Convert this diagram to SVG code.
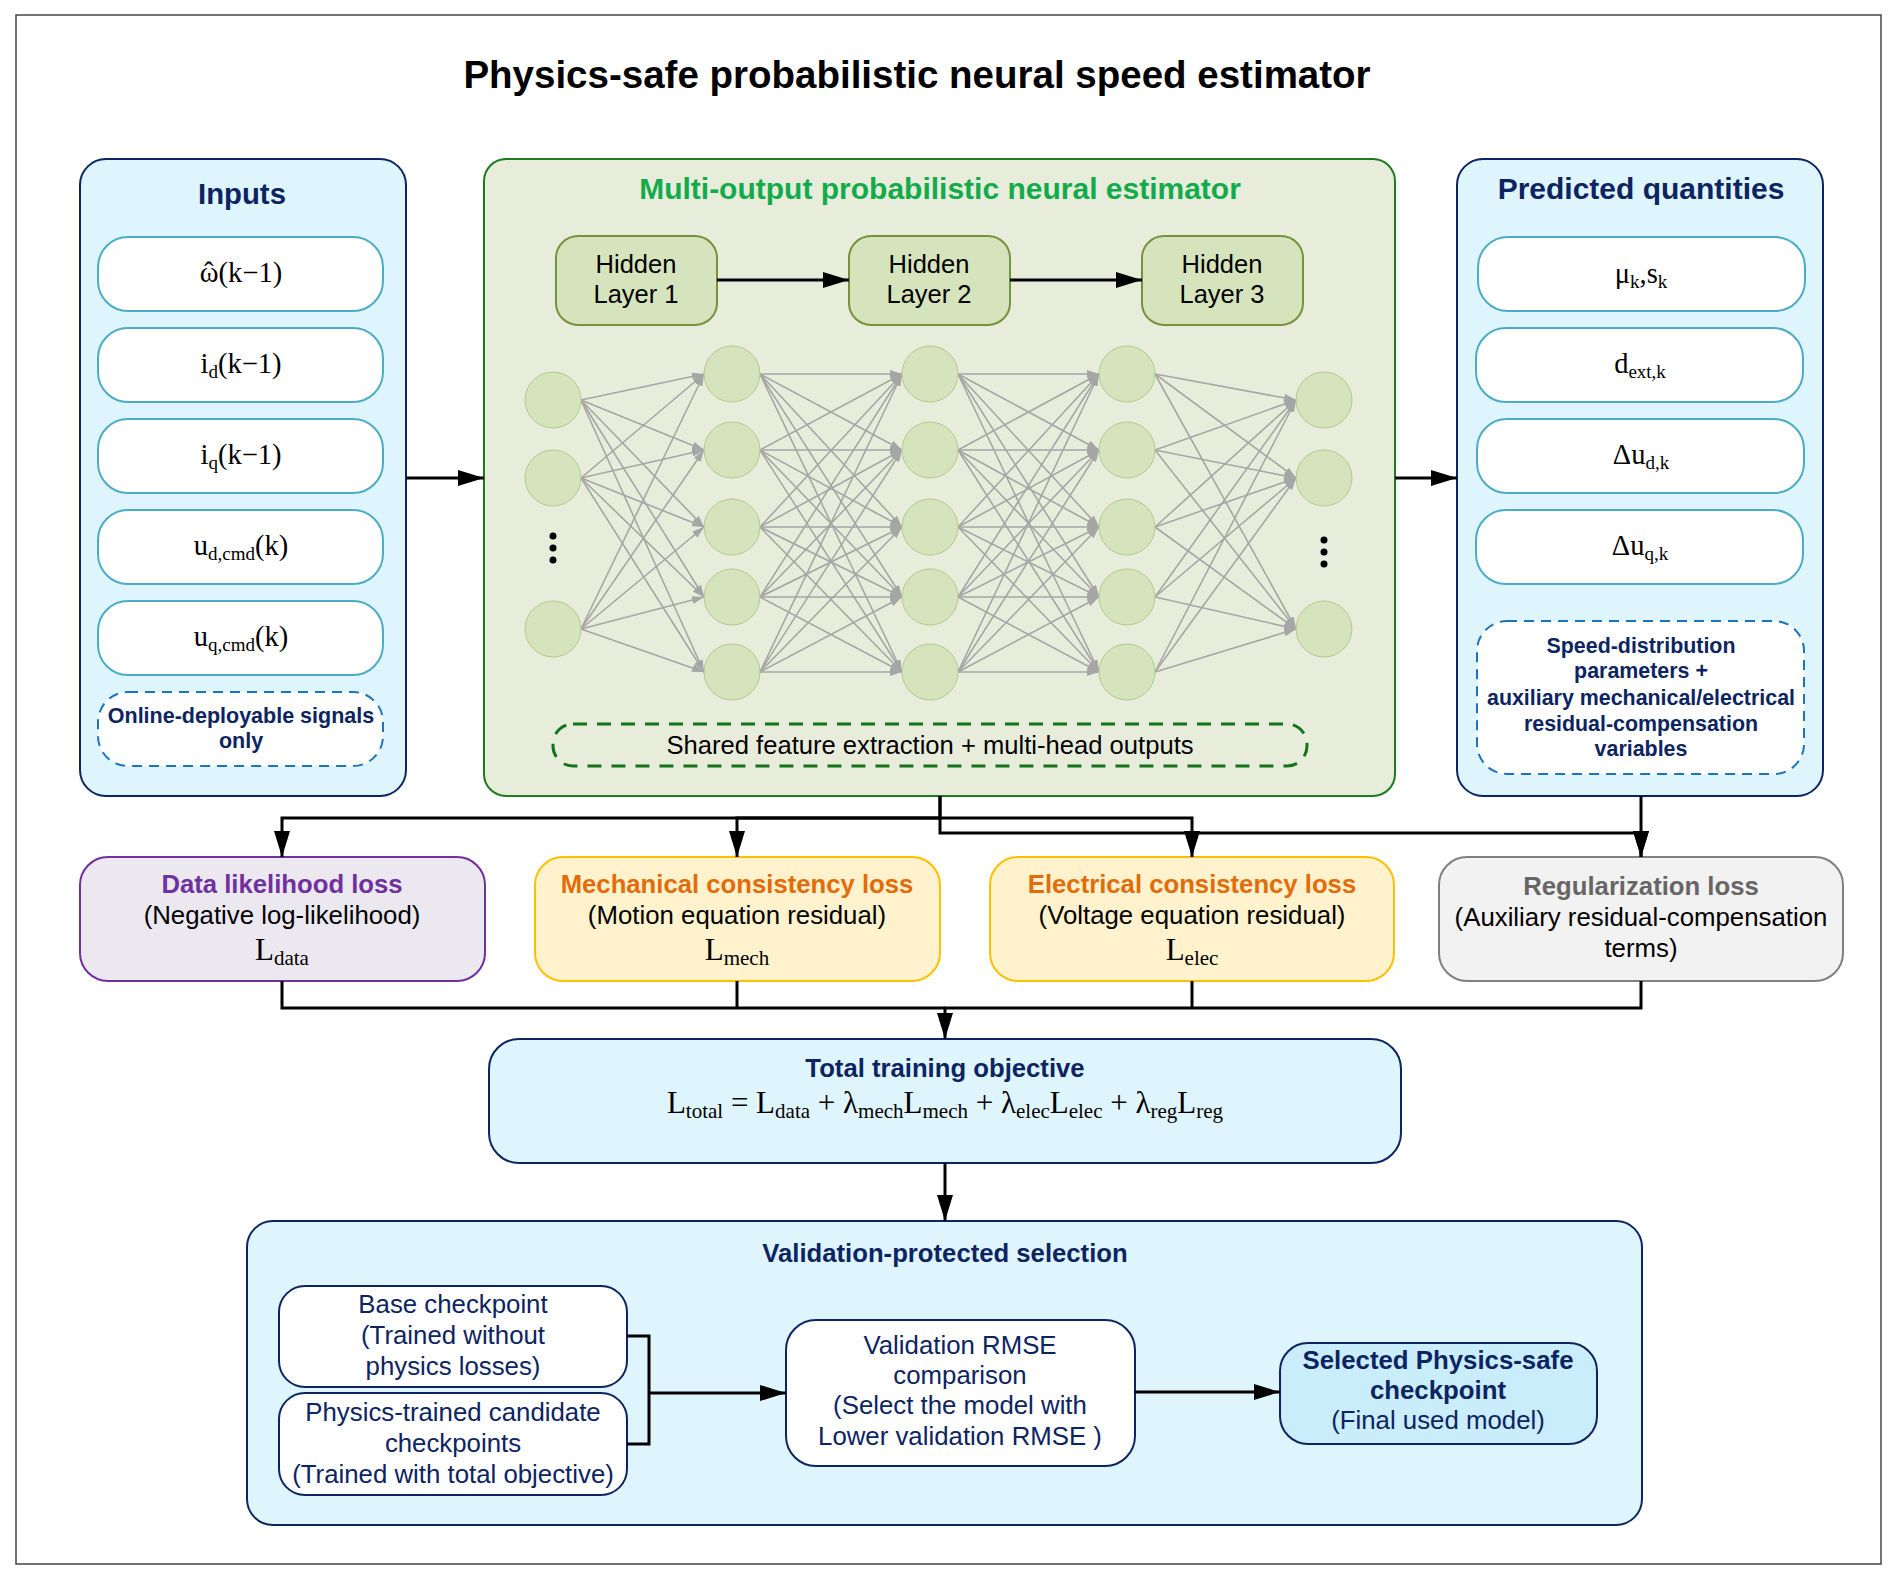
<svg xmlns="http://www.w3.org/2000/svg" width="1897" height="1579" viewBox="0 0 1897 1579">
<defs>
<style>
.t{font-family:"Liberation Sans",Arial,sans-serif;}
.b{font-weight:bold;}
.nv{fill:#0c2461;}
.r{font-size:25.8px;}
.bt{font-size:25.7px;}
.m{font-family:"Liberation Serif","Times New Roman",serif;font-size:28.5px;fill:#000;}
.s{font-size:19px;}
.ms{font-family:"Liberation Serif","Times New Roman",serif;font-size:31px;fill:#000;}
.ss{font-size:21px;}
.inner{fill:#ffffff;stroke:#4bacc6;stroke-width:2;}
.panel{fill:#dff5fe;stroke:#0c2461;stroke-width:2;}
.note{fill:#ffffff;stroke:#1e73be;stroke-width:2;stroke-dasharray:10 7;}
.neu{fill:#d6e4bd;stroke:#b3c98c;stroke-width:1;}
.hid{fill:#d6e4bd;stroke:#76933c;stroke-width:2;}
.nn line{stroke:#a6a6a6;stroke-width:1.6;marker-end:url(#ga);}
.con{fill:none;stroke:#000;stroke-width:3;}
.vb{fill:#ffffff;stroke:#0c2461;stroke-width:2;}
</style>
<marker id="ah" viewBox="0 0 26 16" refX="26" refY="8" markerWidth="26" markerHeight="16" markerUnits="userSpaceOnUse" orient="auto"><path d="M0,0 L26,8 L0,16 z" fill="#000"/></marker>
<marker id="ga" viewBox="0 0 12 8" refX="12" refY="4" markerWidth="12" markerHeight="8" markerUnits="userSpaceOnUse" orient="auto"><path d="M0,0 L12,4 L0,8 z" fill="#a6a6a6"/></marker>
</defs>
<rect x="0" y="0" width="1897" height="1579" fill="#ffffff"/>
<rect x="16" y="15" width="1865" height="1549" fill="none" stroke="#444" stroke-width="1.5"/>
<text class="t b" x="917" y="88" font-size="38.5" text-anchor="middle" fill="#000">Physics-safe probabilistic neural speed estimator</text>

<g id="inputs">
<rect class="panel" x="80" y="159" width="326" height="637" rx="26"/>
<text class="t b nv" x="242" y="204" font-size="29.3" text-anchor="middle">Inputs</text>
<rect class="inner" x="98" y="237" width="285" height="74" rx="30"/>
<text class="m" x="241" y="282" text-anchor="middle">ω<tspan dx="-14.5">ˆ</tspan><tspan dx="5">(k−1)</tspan></text>
<rect class="inner" x="98" y="328" width="285" height="74" rx="30"/>
<text class="m" x="241" y="373" text-anchor="middle">i<tspan class="s" dy="5">d</tspan><tspan dy="-5">(k−1)</tspan></text>
<rect class="inner" x="98" y="419" width="285" height="74" rx="30"/>
<text class="m" x="241" y="464" text-anchor="middle">i<tspan class="s" dy="5">q</tspan><tspan dy="-5">(k−1)</tspan></text>
<rect class="inner" x="98" y="510" width="285" height="74" rx="30"/>
<text class="m" x="241" y="555" text-anchor="middle">u<tspan class="s" dy="5">d,cmd</tspan><tspan dy="-5">(k)</tspan></text>
<rect class="inner" x="98" y="601" width="285" height="74" rx="30"/>
<text class="m" x="241" y="646" text-anchor="middle">u<tspan class="s" dy="5">q,cmd</tspan><tspan dy="-5">(k)</tspan></text>
<rect class="note" x="98" y="692" width="285" height="74" rx="30"/>
<text class="t b nv" x="241" y="723" font-size="21.5" text-anchor="middle">Online-deployable signals</text>
<text class="t b nv" x="241" y="748" font-size="21.5" text-anchor="middle">only</text>
</g>

<g id="neural-estimator">
<rect x="484" y="159" width="911" height="637" rx="22" fill="#e8eddb" stroke="#1e7b1e" stroke-width="2"/>
<text class="t b" x="940" y="199" font-size="30" text-anchor="middle" fill="#12ab4b">Multi-output probabilistic neural estimator</text>
<g id="hidden1"><rect class="hid" x="556" y="236" width="161" height="89" rx="22"/>
<text class="t" x="636" y="273" font-size="25.5" text-anchor="middle">Hidden</text><text class="t" x="636" y="303" font-size="25.5" text-anchor="middle">Layer 1</text></g>
<g id="hidden2"><rect class="hid" x="849" y="236" width="161" height="89" rx="22"/>
<text class="t" x="929" y="273" font-size="25.5" text-anchor="middle">Hidden</text><text class="t" x="929" y="303" font-size="25.5" text-anchor="middle">Layer 2</text></g>
<g id="hidden3"><rect class="hid" x="1142" y="236" width="161" height="89" rx="22"/>
<text class="t" x="1222" y="273" font-size="25.5" text-anchor="middle">Hidden</text><text class="t" x="1222" y="303" font-size="25.5" text-anchor="middle">Layer 3</text></g>
<g class="nn">
<line x1="581" y1="400" x2="704" y2="374"/><line x1="581" y1="400" x2="704" y2="450"/><line x1="581" y1="400" x2="704" y2="527"/><line x1="581" y1="400" x2="704" y2="597"/><line x1="581" y1="400" x2="704" y2="672"/>
<line x1="581" y1="478" x2="704" y2="374"/><line x1="581" y1="478" x2="704" y2="450"/><line x1="581" y1="478" x2="704" y2="527"/><line x1="581" y1="478" x2="704" y2="597"/><line x1="581" y1="478" x2="704" y2="672"/>
<line x1="581" y1="629" x2="704" y2="374"/><line x1="581" y1="629" x2="704" y2="450"/><line x1="581" y1="629" x2="704" y2="527"/><line x1="581" y1="629" x2="704" y2="597"/><line x1="581" y1="629" x2="704" y2="672"/>

<line x1="760" y1="374" x2="902" y2="374"/><line x1="760" y1="374" x2="902" y2="450"/><line x1="760" y1="374" x2="902" y2="527"/><line x1="760" y1="374" x2="902" y2="597"/><line x1="760" y1="374" x2="902" y2="672"/>
<line x1="760" y1="450" x2="902" y2="374"/><line x1="760" y1="450" x2="902" y2="450"/><line x1="760" y1="450" x2="902" y2="527"/><line x1="760" y1="450" x2="902" y2="597"/><line x1="760" y1="450" x2="902" y2="672"/>
<line x1="760" y1="527" x2="902" y2="374"/><line x1="760" y1="527" x2="902" y2="450"/><line x1="760" y1="527" x2="902" y2="527"/><line x1="760" y1="527" x2="902" y2="597"/><line x1="760" y1="527" x2="902" y2="672"/>
<line x1="760" y1="597" x2="902" y2="374"/><line x1="760" y1="597" x2="902" y2="450"/><line x1="760" y1="597" x2="902" y2="527"/><line x1="760" y1="597" x2="902" y2="597"/><line x1="760" y1="597" x2="902" y2="672"/>
<line x1="760" y1="672" x2="902" y2="374"/><line x1="760" y1="672" x2="902" y2="450"/><line x1="760" y1="672" x2="902" y2="527"/><line x1="760" y1="672" x2="902" y2="597"/><line x1="760" y1="672" x2="902" y2="672"/>

<line x1="958" y1="374" x2="1099" y2="374"/><line x1="958" y1="374" x2="1099" y2="450"/><line x1="958" y1="374" x2="1099" y2="527"/><line x1="958" y1="374" x2="1099" y2="597"/><line x1="958" y1="374" x2="1099" y2="672"/>
<line x1="958" y1="450" x2="1099" y2="374"/><line x1="958" y1="450" x2="1099" y2="450"/><line x1="958" y1="450" x2="1099" y2="527"/><line x1="958" y1="450" x2="1099" y2="597"/><line x1="958" y1="450" x2="1099" y2="672"/>
<line x1="958" y1="527" x2="1099" y2="374"/><line x1="958" y1="527" x2="1099" y2="450"/><line x1="958" y1="527" x2="1099" y2="527"/><line x1="958" y1="527" x2="1099" y2="597"/><line x1="958" y1="527" x2="1099" y2="672"/>
<line x1="958" y1="597" x2="1099" y2="374"/><line x1="958" y1="597" x2="1099" y2="450"/><line x1="958" y1="597" x2="1099" y2="527"/><line x1="958" y1="597" x2="1099" y2="597"/><line x1="958" y1="597" x2="1099" y2="672"/>
<line x1="958" y1="672" x2="1099" y2="374"/><line x1="958" y1="672" x2="1099" y2="450"/><line x1="958" y1="672" x2="1099" y2="527"/><line x1="958" y1="672" x2="1099" y2="597"/><line x1="958" y1="672" x2="1099" y2="672"/>

<line x1="1155" y1="374" x2="1296" y2="400"/><line x1="1155" y1="374" x2="1296" y2="478"/><line x1="1155" y1="374" x2="1296" y2="629"/>
<line x1="1155" y1="450" x2="1296" y2="400"/><line x1="1155" y1="450" x2="1296" y2="478"/><line x1="1155" y1="450" x2="1296" y2="629"/>
<line x1="1155" y1="527" x2="1296" y2="400"/><line x1="1155" y1="527" x2="1296" y2="478"/><line x1="1155" y1="527" x2="1296" y2="629"/>
<line x1="1155" y1="597" x2="1296" y2="400"/><line x1="1155" y1="597" x2="1296" y2="478"/><line x1="1155" y1="597" x2="1296" y2="629"/>
<line x1="1155" y1="672" x2="1296" y2="400"/><line x1="1155" y1="672" x2="1296" y2="478"/><line x1="1155" y1="672" x2="1296" y2="629"/>
</g>
<g id="neurons">
<circle class="neu" cx="553" cy="400" r="28"/><circle class="neu" cx="553" cy="478" r="28"/><circle class="neu" cx="553" cy="629" r="28"/>
<circle cx="553" cy="536" r="3.5" fill="#000"/><circle cx="553" cy="548" r="3.5" fill="#000"/><circle cx="553" cy="560" r="3.5" fill="#000"/>
<circle class="neu" cx="732" cy="374" r="28"/><circle class="neu" cx="732" cy="450" r="28"/><circle class="neu" cx="732" cy="527" r="28"/><circle class="neu" cx="732" cy="597" r="28"/><circle class="neu" cx="732" cy="672" r="28"/>
<circle class="neu" cx="930" cy="374" r="28"/><circle class="neu" cx="930" cy="450" r="28"/><circle class="neu" cx="930" cy="527" r="28"/><circle class="neu" cx="930" cy="597" r="28"/><circle class="neu" cx="930" cy="672" r="28"/>
<circle class="neu" cx="1127" cy="374" r="28"/><circle class="neu" cx="1127" cy="450" r="28"/><circle class="neu" cx="1127" cy="527" r="28"/><circle class="neu" cx="1127" cy="597" r="28"/><circle class="neu" cx="1127" cy="672" r="28"/>
<circle class="neu" cx="1324" cy="400" r="28"/><circle class="neu" cx="1324" cy="478" r="28"/><circle class="neu" cx="1324" cy="629" r="28"/>
<circle cx="1324" cy="540" r="3.5" fill="#000"/><circle cx="1324" cy="552" r="3.5" fill="#000"/><circle cx="1324" cy="564" r="3.5" fill="#000"/>
</g>
<rect x="553" y="724" width="754" height="42" rx="20" fill="none" stroke="#12731a" stroke-width="3" stroke-dasharray="14 10"/>
<text class="t" x="930" y="754" font-size="25.6" text-anchor="middle" fill="#000">Shared feature extraction + multi-head outputs</text>
</g>

<g id="predicted">
<rect class="panel" x="1457" y="159" width="366" height="637" rx="26"/>
<text class="t b nv" x="1641" y="199" font-size="30" text-anchor="middle">Predicted quantities</text>
<rect class="inner" x="1478" y="237" width="327" height="74" rx="30"/>
<text class="m" x="1641" y="283" text-anchor="middle">μ<tspan class="s" dy="5">k</tspan><tspan dy="-5">,s</tspan><tspan class="s" dy="5">k</tspan></text>
<rect class="inner" x="1476" y="328" width="327" height="74" rx="30"/>
<text class="m" x="1640" y="373" text-anchor="middle">d<tspan class="s" dy="5">ext,k</tspan></text>
<rect class="inner" x="1477" y="419" width="327" height="74" rx="30"/>
<text class="m" x="1641" y="464" text-anchor="middle">Δu<tspan class="s" dy="5">d,k</tspan></text>
<rect class="inner" x="1476" y="510" width="327" height="74" rx="30"/>
<text class="m" x="1640" y="555" text-anchor="middle">Δu<tspan class="s" dy="5">q,k</tspan></text>
<rect class="note" x="1477" y="621" width="327" height="153" rx="30"/>
<text class="t b nv" font-size="21.4" text-anchor="middle"><tspan x="1641" y="653">Speed-distribution</tspan><tspan x="1641" y="678">parameters +</tspan><tspan x="1641" y="705">auxiliary mechanical/electrical</tspan><tspan x="1641" y="731">residual-compensation</tspan><tspan x="1641" y="756">variables</tspan></text>
</g>

<g id="loss-data">
<rect x="80" y="857" width="405" height="124" rx="28" fill="#ebe8f0" stroke="#7030a0" stroke-width="2"/>
<text class="t b bt" x="282" y="893" text-anchor="middle" fill="#7030a0">Data likelihood loss</text>
<text class="t r" x="282" y="924" text-anchor="middle" fill="#000">(Negative log-likelihood)</text>
<text class="ms" x="282" y="960" text-anchor="middle">L<tspan class="ss" dy="5">data</tspan></text>
</g>
<g id="loss-mech">
<rect x="535" y="857" width="405" height="124" rx="28" fill="#fff2cc" stroke="#ffc000" stroke-width="2"/>
<text class="t b bt" x="737" y="893" text-anchor="middle" fill="#e36c09">Mechanical consistency loss</text>
<text class="t r" x="737" y="924" text-anchor="middle" fill="#000">(Motion equation residual)</text>
<text class="ms" x="737" y="960" text-anchor="middle">L<tspan class="ss" dy="5">mech</tspan></text>
</g>
<g id="loss-elec">
<rect x="990" y="857" width="404" height="124" rx="28" fill="#fff2cc" stroke="#ffc000" stroke-width="2"/>
<text class="t b bt" x="1192" y="893" text-anchor="middle" fill="#e36c09">Electrical consistency loss</text>
<text class="t r" x="1192" y="924" text-anchor="middle" fill="#000">(Voltage equation residual)</text>
<text class="ms" x="1192" y="960" text-anchor="middle">L<tspan class="ss" dy="5">elec</tspan></text>
</g>
<g id="loss-reg">
<rect x="1439" y="857" width="404" height="124" rx="28" fill="#f2f2f2" stroke="#808080" stroke-width="2"/>
<text class="t b bt" x="1641" y="895" text-anchor="middle" fill="#666666">Regularization loss</text>
<text class="t r" x="1641" y="926" text-anchor="middle" fill="#000">(Auxiliary residual-compensation</text>
<text class="t r" x="1641" y="957" text-anchor="middle" fill="#000">terms)</text>
</g>

<g id="total-objective">
<rect class="panel" x="489" y="1039" width="912" height="124" rx="30"/>
<text class="t b nv bt" x="945" y="1077" text-anchor="middle">Total training objective</text>
<text class="ms" x="945" y="1113" text-anchor="middle">L<tspan class="ss" dy="5">total</tspan><tspan dy="-5"> = L</tspan><tspan class="ss" dy="5">data</tspan><tspan dy="-5"> + λ</tspan><tspan class="ss" dy="5">mech</tspan><tspan dy="-5">L</tspan><tspan class="ss" dy="5">mech</tspan><tspan dy="-5"> + λ</tspan><tspan class="ss" dy="5">elec</tspan><tspan dy="-5">L</tspan><tspan class="ss" dy="5">elec</tspan><tspan dy="-5"> + λ</tspan><tspan class="ss" dy="5">reg</tspan><tspan dy="-5">L</tspan><tspan class="ss" dy="5">reg</tspan></text>
</g>

<g id="validation">
<rect class="panel" x="247" y="1221" width="1395" height="304" rx="26"/>
<text class="t b nv bt" x="945" y="1262" text-anchor="middle">Validation-protected selection</text>
<g id="base-checkpoint">
<rect class="vb" x="279" y="1286" width="348" height="101" rx="26"/>
<text class="t nv r" text-anchor="middle"><tspan x="453" y="1313">Base checkpoint</tspan><tspan x="453" y="1344">(Trained without</tspan><tspan x="453" y="1375">physics losses)</tspan></text>
</g>
<g id="physics-candidates">
<rect class="vb" x="279" y="1393" width="348" height="102" rx="26"/>
<text class="t nv r" text-anchor="middle"><tspan x="453" y="1421">Physics-trained candidate</tspan><tspan x="453" y="1452">checkpoints</tspan><tspan x="453" y="1483">(Trained with total objective)</tspan></text>
</g>
<g id="rmse-comparison">
<rect class="vb" x="786" y="1320" width="349" height="146" rx="30"/>
<text class="t nv r" text-anchor="middle"><tspan x="960" y="1354">Validation RMSE</tspan><tspan x="960" y="1384">comparison</tspan><tspan x="960" y="1414">(Select the model with</tspan><tspan x="960" y="1445">Lower validation RMSE )</tspan></text>
</g>
<g id="selected-checkpoint">
<rect x="1280" y="1343" width="317" height="101" rx="28" fill="#c9edfb" stroke="#0c2461" stroke-width="2"/>
<text class="t b nv r" text-anchor="middle"><tspan x="1438" y="1369">Selected Physics-safe</tspan><tspan x="1438" y="1399">checkpoint</tspan></text>
<text class="t nv r" x="1438" y="1429" text-anchor="middle">(Final used model)</text>
</g>
</g>

<g id="connectors">
<path class="con" d="M406,478 H484" marker-end="url(#ah)"/>
<path class="con" d="M1395,478 H1457" marker-end="url(#ah)"/>
<path class="con" d="M717,280 H849" marker-end="url(#ah)"/>
<path class="con" d="M1010,280 H1142" marker-end="url(#ah)"/>
<path class="con" d="M940,796 V818 H282 V857" marker-end="url(#ah)"/>
<path class="con" d="M940,818 H737 V857" marker-end="url(#ah)"/>
<path class="con" d="M940,818 H1192 V857" marker-end="url(#ah)"/>
<path class="con" d="M940,796 V833 H1641 V857" marker-end="url(#ah)"/>
<path class="con" d="M1641,796 V857" marker-end="url(#ah)"/>
<path class="con" d="M282,981 V1008 H945"/>
<path class="con" d="M737,981 V1008"/>
<path class="con" d="M1192,981 V1008"/>
<path class="con" d="M1641,981 V1008 H945 V1039" marker-end="url(#ah)"/>
<path class="con" d="M945,1163 V1221" marker-end="url(#ah)"/>
<path class="con" d="M627,1336 H649 V1444 H627"/>
<path class="con" d="M649,1393 H786" marker-end="url(#ah)"/>
<path class="con" d="M1135,1392 H1280" marker-end="url(#ah)"/>
</g>
</svg>
